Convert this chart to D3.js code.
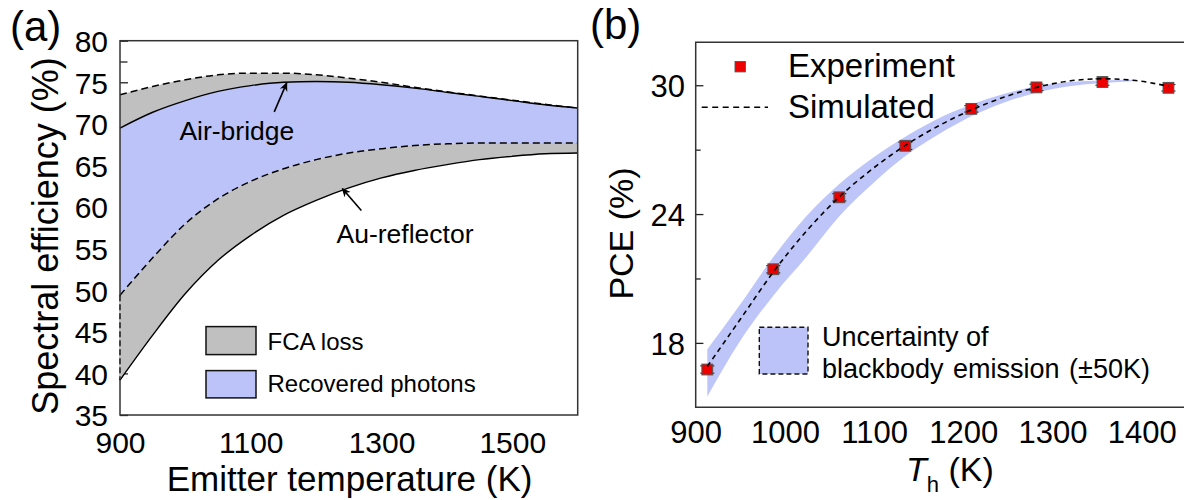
<!DOCTYPE html>
<html>
<head>
<meta charset="utf-8">
<script src="https://cdn.jsdelivr.net/npm/d3@7"></script>
<style>
  html, body { margin: 0; padding: 0; background: #fff; overflow: hidden; }
  svg { display: block; }
  text { font-family: 'Liberation Sans', Arial, Helvetica, sans-serif; fill: #000; }
</style>
</head>
<body>
<script>
// ---------------- Panel (a) data ----------------
const tempA = [900, 950, 1000, 1050, 1100, 1150, 1200, 1250, 1300, 1350, 1400, 1450, 1500, 1550, 1600];
const airNoFCA = [73.5, 74.5, 75.3, 75.9, 76.1, 76.1, 75.9, 75.5, 75.0, 74.4, 73.85, 73.35, 72.85, 72.35, 71.9];
const airBridge = [69.5, 71.4, 72.8, 73.9, 74.6, 75.0, 75.1, 75.0, 74.7, 74.3, 73.8, 73.3, 72.8, 72.3, 71.9];
const auNoFCA = [49.4, 53.9, 58.0, 61.0, 63.1, 64.6, 65.7, 66.5, 67.0, 67.4, 67.6, 67.7, 67.7, 67.7, 67.7];
const auReflector = [39.2, 44.6, 49.6, 53.6, 56.6, 59.0, 60.8, 62.3, 63.5, 64.4, 65.1, 65.7, 66.1, 66.4, 66.5];
const yTicksA = [35, 40, 45, 50, 55, 60, 65, 70, 75, 80];
const yMinorA = [42.5, 47.5, 52.5, 57.5, 62.5, 67.5, 72.5, 77.5];
const xTicksA = [900, 1100, 1300, 1500];
const legendA = ["FCA loss", "Recovered photons"];

// ---------------- Panel (b) data ----------------
const tempB = [913, 987, 1061, 1135, 1209, 1282, 1356, 1430];
const pceExp = [16.76, 21.43, 24.78, 27.18, 28.9, 29.9, 30.15, 29.88];
const pceErr = [0.17, 0.17, 0.17, 0.17, 0.15, 0.15, 0.15, 0.15];
const simT = [913, 950, 987, 1024, 1061, 1098, 1135, 1172, 1209, 1246, 1282, 1319, 1356, 1393, 1430];
const simPCE = [16.9, 19.1, 21.3, 23.2, 24.8, 26.1, 27.2, 28.1, 28.85, 29.45, 29.9, 30.2, 30.3, 30.22, 29.95];
const bandT = [913, 950, 987, 1024, 1061, 1098, 1135, 1172, 1209, 1246, 1282, 1319, 1356, 1393];
const bandHi = [17.7, 19.8, 22.0, 23.9, 25.4, 26.6, 27.6, 28.45, 29.1, 29.6, 29.95, 30.15, 30.22, 30.25];
const bandLo = [15.5, 18.1, 20.2, 22.0, 23.9, 25.4, 26.7, 27.7, 28.55, 29.2, 29.65, 29.95, 30.1, 30.2];
const yTicksB = [18, 24, 30];
const yMinorB = [21, 27];
const xTicksB = [900, 1000, 1100, 1200, 1300, 1400];

const GRAY = "#c0c0c0";
const BLUE = "#bbc3f9";

const svg = d3.select("body").append("svg").attr("width", 1184).attr("height", 500);

// ================= Panel (a) =================
const xA = d3.scaleLinear().domain([900, 1600]).range([120, 577.7]);
const yA = d3.scaleLinear().domain([35, 80]).range([415, 40.7]);
const gA = svg.append("g");

const axA = gA.append("g").attr("transform", `translate(${xA.range()[0]},0)`)
  .call(d3.axisLeft(yA).tickValues(yTicksA).tickSize(-8).tickPadding(12).tickFormat(d3.format("d")));
axA.select(".domain").remove();
axA.selectAll("line").attr("stroke", "#222").attr("stroke-width", 1.3);
axA.selectAll("text").attr("font-size", 30).attr("dy", "0.36em").style("font-family", null);
const axAm = gA.append("g").attr("transform", `translate(${xA.range()[0]},0)`)
  .call(d3.axisLeft(yA).tickValues(yMinorA).tickSize(-7.5).tickFormat(""));
axAm.select(".domain").remove();
axAm.selectAll("line").attr("stroke", "#222").attr("stroke-width", 1.3);

const axAx = gA.append("g").attr("transform", `translate(0,${yA.range()[0]})`)
  .call(d3.axisBottom(xA).tickValues(xTicksA).tickSize(0).tickFormat(d3.format("d")));
axAx.select(".domain").remove();
axAx.selectAll("text").attr("font-size", 30).attr("y", 37.5).attr("dy", null).style("font-family", null);

const rowsA = tempA.map((t, i) => ({ t, a: airNoFCA[i], b: airBridge[i], c: auNoFCA[i], d: auReflector[i] }));
const curve = d3.curveMonotoneX;
const areaA = (k0, k1) => d3.area().curve(curve).x(d => xA(d.t)).y0(d => yA(d[k0])).y1(d => yA(d[k1]));
const lineA = k => d3.line().curve(curve).x(d => xA(d.t)).y(d => yA(d[k]));

gA.append("path").datum(rowsA).attr("d", areaA("b", "a")).attr("fill", GRAY);
gA.append("path").datum(rowsA).attr("d", areaA("c", "b")).attr("fill", BLUE);
gA.append("path").datum(rowsA).attr("d", areaA("d", "c")).attr("fill", GRAY);

gA.append("path").datum(rowsA).attr("d", lineA("a")).attr("fill", "none").attr("stroke", "#000").attr("stroke-width", 1.5).attr("stroke-dasharray", "7,4");
gA.append("path").datum(rowsA).attr("d", lineA("b")).attr("fill", "none").attr("stroke", "#000").attr("stroke-width", 1.4);
gA.append("path").datum(rowsA).attr("d", lineA("c")).attr("fill", "none").attr("stroke", "#000").attr("stroke-width", 1.5).attr("stroke-dasharray", "7,4");
gA.append("path").datum(rowsA).attr("d", lineA("d")).attr("fill", "none").attr("stroke", "#000").attr("stroke-width", 1.4);

// box
gA.append("rect").attr("x", xA.range()[0]).attr("y", yA.range()[1])
  .attr("width", xA.range()[1] - xA.range()[0]).attr("height", yA.range()[0] - yA.range()[1])
  .attr("fill", "none").attr("stroke", "#333").attr("stroke-width", 1.5);
// dashed left edge of lower FCA band
gA.append("line").attr("x1", xA(900)).attr("x2", xA(900))
  .attr("y1", yA(auNoFCA[0]) + 1).attr("y2", yA(auReflector[0]) - 1)
  .attr("stroke", GRAY).attr("stroke-width", 2);
gA.append("line").attr("x1", xA(900)).attr("x2", xA(900))
  .attr("y1", yA(auNoFCA[0])).attr("y2", yA(auReflector[0]))
  .attr("stroke", "#000").attr("stroke-width", 1.3).attr("stroke-dasharray", "6,3");

// arrows & annotations
const defs = svg.append("defs");
defs.append("marker").attr("id", "ah").attr("viewBox", "0 0 10 10").attr("refX", 9).attr("refY", 5)
  .attr("markerWidth", 9).attr("markerHeight", 9).attr("markerUnits", "userSpaceOnUse").attr("orient", "auto")
  .append("path").attr("d", "M0,0.5 L10,5 L0,9.5 L3,5 Z").attr("fill", "#000");

const tipAir = [xA(1155), yA(75.05) + 1];
gA.append("line").attr("x1", tipAir[0] - 12.5).attr("y1", tipAir[1] + 29).attr("x2", tipAir[0]).attr("y2", tipAir[1])
  .attr("stroke", "#000").attr("stroke-width", 1.6).attr("marker-end", "url(#ah)");
const tipAu = [xA(1240), yA(62.1) - 1];
gA.append("line").attr("x1", tipAu[0] + 19).attr("y1", tipAu[1] + 22).attr("x2", tipAu[0]).attr("y2", tipAu[1])
  .attr("stroke", "#000").attr("stroke-width", 1.6).attr("marker-end", "url(#ah)");
gA.append("text").attr("x", 179.4).attr("y", 140).attr("font-size", 26.5).text("Air-bridge");
gA.append("text").attr("x", 336.5).attr("y", 243).attr("font-size", 26.5).text("Au-reflector");

// legend (a)
const legA = gA.append("g");
[[GRAY, 326.6, 28], [BLUE, 370.6, 27.3]].forEach((r, i) => {
  legA.append("rect").attr("x", 206).attr("y", r[1]).attr("width", 50).attr("height", r[2])
    .attr("fill", r[0]).attr("stroke", "#111").attr("stroke-width", 1.5);
  legA.append("text").attr("x", 267.5).attr("y", i === 0 ? 349.5 : 392).attr("font-size", 24).text(legendA[i]);
});

// labels (a)
gA.append("text").attr("x", 10).attr("y", 41).attr("font-size", 42).text("(a)");
gA.append("text").attr("transform", "translate(58,236) rotate(-90)").attr("text-anchor", "middle")
  .attr("font-size", 36).text("Spectral efficiency (%)");
gA.append("text").attr("x", 349.6).attr("y", 491).attr("text-anchor", "middle")
  .attr("font-size", 35).text("Emitter temperature (K)");

// ================= Panel (b) =================
const xB = d3.scaleLinear().domain([900, 1450]).range([695.7, 1186.3]);
const yB = d3.scaleLinear().domain([15, 32]).range([407.3, 42.3]);
const gB = svg.append("g");

const axB = gB.append("g").attr("transform", `translate(${xB.range()[0]},0)`)
  .call(d3.axisLeft(yB).tickValues(yTicksB).tickSize(-7.7).tickPadding(10.7).tickFormat(d3.format("d")));
axB.select(".domain").remove();
axB.selectAll("line").attr("stroke", "#222").attr("stroke-width", 1.3);
axB.selectAll("text").attr("font-size", 31).attr("dy", "0.36em").style("font-family", null);
const axBm = gB.append("g").attr("transform", `translate(${xB.range()[0]},0)`)
  .call(d3.axisLeft(yB).tickValues(yMinorB).tickSize(-5).tickFormat(""));
axBm.select(".domain").remove();
axBm.selectAll("line").attr("stroke", "#222").attr("stroke-width", 1.3);

const axBx = gB.append("g").attr("transform", `translate(0,${yB.range()[0]})`)
  .call(d3.axisBottom(xB).tickValues(xTicksB).tickSize(0).tickFormat(d3.format("d")));
axBx.select(".domain").remove();
axBx.selectAll("text").attr("font-size", 31).attr("y", 35.5).attr("dy", null).style("font-family", null);

// uncertainty band
const bandRows = bandT.map((t, i) => ({ t, lo: bandLo[i], hi: bandHi[i] }));
gB.append("path").datum(bandRows)
  .attr("d", d3.area().curve(curve).x(d => xB(d.t)).y0(d => yB(d.lo)).y1(d => yB(d.hi)))
  .attr("fill", BLUE).attr("opacity", 0.95);

// box (right side is outside the picture)
gB.append("path")
  .attr("d", `M${xB.range()[1] + 4},${yB.range()[1]} H${xB.range()[0]} V${yB.range()[0]} H${xB.range()[1] + 4}`)
  .attr("fill", "none").attr("stroke", "#333").attr("stroke-width", 1.5);

// experiment points with error bars
const expRows = tempB.map((t, i) => ({ t, v: pceExp[i], e: pceErr[i] }));
const eb = gB.append("g").attr("stroke", "#222").attr("stroke-width", 1.1);
expRows.forEach(d => {
  const cx = xB(d.t);
  eb.append("line").attr("x1", cx).attr("x2", cx).attr("y1", yB(d.v - d.e)).attr("y2", yB(d.v + d.e));
  eb.append("line").attr("x1", cx - 7).attr("x2", cx + 7).attr("y1", yB(d.v - d.e)).attr("y2", yB(d.v - d.e));
  eb.append("line").attr("x1", cx - 7).attr("x2", cx + 7).attr("y1", yB(d.v + d.e)).attr("y2", yB(d.v + d.e));
});
gB.append("g").selectAll("rect").data(expRows).join("rect")
  .attr("x", d => xB(d.t) - 5.4).attr("y", d => yB(d.v) - 5.4).attr("width", 10.8).attr("height", 10.8)
  .attr("fill", "#ee0000").attr("stroke", "#555").attr("stroke-width", 1);

// simulated dashed curve
const simRows = simT.map((t, i) => ({ t, v: simPCE[i] }));
gB.append("path").datum(simRows)
  .attr("d", d3.line().curve(curve).x(d => xB(d.t)).y(d => yB(d.v)))
  .attr("fill", "none").attr("stroke", "#000").attr("stroke-width", 1.6).attr("stroke-dasharray", "5,4");

// legend (b)
gB.append("rect").attr("x", 735).attr("y", 61.5).attr("width", 10.4).attr("height", 10.4)
  .attr("fill", "#ee0000").attr("stroke", "#555").attr("stroke-width", 0.9);
gB.append("text").attr("x", 788).attr("y", 76.7).attr("font-size", 33).text("Experiment");
gB.append("line").attr("x1", 701.7).attr("x2", 768).attr("y1", 107.3).attr("y2", 107.3)
  .attr("stroke", "#000").attr("stroke-width", 1.4).attr("stroke-dasharray", "6,4.5");
gB.append("text").attr("x", 788).attr("y", 118.3).attr("font-size", 33).text("Simulated");

gB.append("rect").attr("x", 759.3).attr("y", 327.3).attr("width", 48.7).attr("height", 46.7)
  .attr("fill", BLUE).attr("stroke", "#111").attr("stroke-width", 1.4).attr("stroke-dasharray", "5,3");
gB.append("text").attr("x", 822).attr("y", 345.5).attr("font-size", 27).text("Uncertainty of");
gB.append("text").attr("x", 822).attr("y", 378).attr("font-size", 27).attr("word-spacing", 2).text("blackbody emission (±50K)");

// labels (b)
gB.append("text").attr("x", 590).attr("y", 39).attr("font-size", 42).text("(b)");
gB.append("text").attr("transform", "translate(633,233.5) rotate(-90)").attr("text-anchor", "middle")
  .attr("font-size", 34).text("PCE (%)");
const tl = gB.append("text").attr("x", 906).attr("y", 481).attr("font-size", 34);
tl.append("tspan").attr("font-style", "italic").text("T");
tl.append("tspan").attr("font-size", 22).attr("dy", 11).text("h");
tl.append("tspan").attr("dy", -11).text(" (K)");
</script>
</body>
</html>
